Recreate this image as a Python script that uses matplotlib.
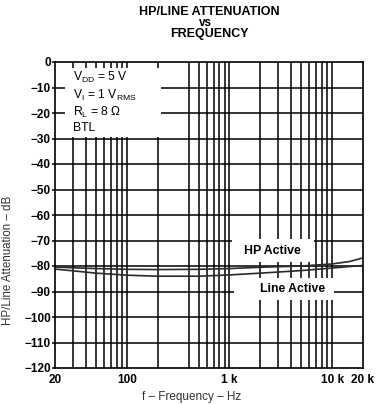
import matplotlib
matplotlib.use("Agg")
import matplotlib.pyplot as plt
from matplotlib.patches import Rectangle
from matplotlib.ticker import FixedLocator, NullLocator

plt.rcParams['font.family'] = ['Liberation Sans', 'DejaVu Sans']
plt.rcParams['mathtext.default'] = 'regular'

# ---- data ----
freq_hz = [20, 30, 50, 100, 200, 500, 1000, 2000, 5000, 10000, 15000, 20000]
hp_active_db = [-80.4, -80.7, -81.0, -81.3, -81.4, -81.3, -81.0, -80.5, -80.0, -79.2, -78.2, -76.8]
line_active_db = [-81.2, -81.9, -82.8, -83.6, -84.0, -84.0, -83.5, -82.8, -81.8, -80.8, -80.2, -79.8]

x_tick_values = [20, 100, 1000, 10000, 20000]
x_tick_labels = ["20", "100", "1 k", "10 k", "20 k"]
y_tick_values = list(range(0, -130, -10))
y_tick_labels = ["0"] + ["\u2212%d" % (-v) for v in y_tick_values[1:]]
x_grid_values = [30, 40, 50, 60, 70, 80, 90,
                 100, 200, 400, 500, 600, 700, 800, 900,
                 1000, 2000, 3000, 4000, 5000, 6000, 7000, 8000, 9000, 10000]

W, H = 377, 404
fig = plt.figure(figsize=(W / 100, H / 100), dpi=100)
ax = fig.add_axes([55 / W, 1 - 368 / H, (363 - 55) / W, (368 - 62) / H])

ax.set_xscale('log')
ax.set_xlim(20, 20000)
ax.set_ylim(-120, 0)

# grid
for xv in x_grid_values:
    ax.axvline(xv, color='black', lw=1.1, zorder=1)
for yv in y_tick_values[1:-1]:
    ax.axhline(yv, color='black', lw=1.1, zorder=1)

# white label boxes (mask grid)
boxes = [
    (25, 215, -29.5, -2.5),
    (1060, 6700, -78.4, -69.5),
    (1100, 10400, -93.3, -84.7),
]
for x0, x1, y0, y1 in boxes:
    ax.add_patch(Rectangle((x0, y0), x1 - x0, y1 - y0, facecolor='white',
                           edgecolor='none', zorder=2))

# curves
ax.plot(freq_hz, hp_active_db, color='#2a2a2a', lw=1.2, zorder=3)
ax.plot(freq_hz, line_active_db, color='#2a2a2a', lw=1.2, zorder=3)

# ticks
ax.xaxis.set_major_locator(FixedLocator(x_tick_values))
ax.xaxis.set_minor_locator(NullLocator())
ax.set_xticklabels(x_tick_labels, fontsize=8.5, fontweight='bold')
ax.set_yticks(y_tick_values)
ax.set_yticklabels(y_tick_labels, fontsize=8.5, fontweight='bold')
ax.tick_params(axis='x', length=0, pad=4)
ax.tick_params(axis='y', length=2.5, width=1.1, pad=0.5)
for s in ax.spines.values():
    s.set_linewidth(1.2)
    s.set_zorder(5)

# annotations
ax.text(2620, -74.0, "HP Active", fontsize=8.8, fontweight='bold', ha='center', va='center', zorder=4)
ax.text(4090, -89.2, "Line Active", fontsize=8.8, fontweight='bold', ha='center', va='center', zorder=4)

cond_lines = [r"V$_{DD}$ = 5 V", r"V$_{I}$ = 1 V$_{RMS}$", "R$_{L}$ = 8 \u03A9", "BTL"]
cond_y = [77, 95, 112, 128]
for t, yy in zip(cond_lines, cond_y):
    fig.text(73 / W, 1 - yy / H, t, fontsize=8.7, ha='left', va='center', zorder=4)

# title
fig.text(209 / W, 1 - 12 / H, "HP/LINE ATTENUATION", fontsize=9, fontweight='bold', ha='center', va='center')
fig.text(205 / W, 1 - 23 / H, "vs", fontsize=8.5, fontweight='bold', ha='center', va='center')
fig.text(209 / W, 1 - 34 / H, "FREQUENCY", fontsize=9, fontweight='bold', ha='center', va='center')

# axis labels
fig.text(8 / W, 1 - 260 / H, "HP/Line Attenuation \u2013 dB", fontsize=8.3, rotation=90,
         ha='center', va='center', color='#333333')
fig.text(192 / W, 1 - 403 / H, "f \u2013 Frequency \u2013 Hz", fontsize=8.5,
         ha='center', va='bottom', color='#333333')

fig.savefig("out.png", dpi=100)
